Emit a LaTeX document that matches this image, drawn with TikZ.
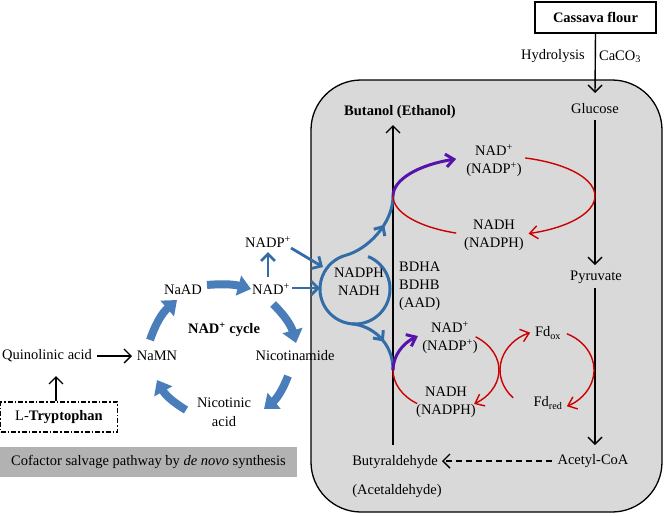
\documentclass[tikz,border=0pt]{standalone}
\usepackage{fontspec}
\setmainfont{Liberation Serif}
\usetikzlibrary{arrows.meta,decorations.markings,calc}
\definecolor{boxgray}{RGB}{217,217,217}
\definecolor{bargray}{RGB}{178,178,178}
\definecolor{fatblue}{RGB}{74,126,187}
\definecolor{thinblue}{RGB}{52,108,168}
\definecolor{myred}{RGB}{204,0,0}
\definecolor{mypurple}{RGB}{88,20,170}
\begin{document}
\begin{tikzpicture}[x=1pt,y=-1pt,
  lbl/.style={inner sep=0pt, align=center},
  blk/.style={line width=1.4pt, -{Straight Barb[length=7pt,width=14pt]}},
  redarr/.style={myred, line width=1.4pt, -{Straight Barb[length=8pt,width=13pt]}},
  redln/.style={myred, line width=1.4pt},
  purarr/.style={mypurple, line width=3pt, -{Straight Barb[length=8pt,width=13pt]}},
  bluearr/.style={thinblue, line width=2.8pt, -{Straight Barb[length=7pt,width=14pt]}},
  bluecirc/.style={thinblue, line width=3pt},
  fat/.style={fatblue, line width=8pt, -{Triangle[length=13pt,width=20pt]}},
  midarrow/.style={postaction={decorate}, decoration={markings, mark=at position #1 with {\arrow{Straight Barb[length=7pt,width=13pt]}}}}]
\fontsize{14.5}{18}\selectfont
\useasboundingbox (0,0) rectangle (664,515);

% cell
\draw[fill=boxgray, line width=1.3pt, rounded corners=50pt] (311,80) rectangle (662,512);

% right side labels
\node[lbl, draw, line width=1.3pt, minimum width=121pt, minimum height=31pt, font=\bfseries] (cas) at (595.5,17.5) {Cassava flour};
\node[lbl] (hyd) at (553,56) {Hydrolysis};
\node[lbl] (caco) at (620,57) {CaCO\textsubscript{3}};
\node[lbl] (glu) at (595,109) {Glucose};
\node[lbl] (pyr) at (596,277) {Pyruvate};
\node[lbl] (aco) at (593,461) {Acetyl-CoA};
\node[lbl] (butyr) at (395,462) {Butyraldehyde};
\node[lbl] (acet) at (397,491) {(Acetaldehyde)};
\node[lbl, font=\bfseries] (buol) at (400,112) {Butanol (Ethanol)};
\node[lbl] (nadA) at (494,161) {NAD\textsuperscript{+}\\(NADP\textsuperscript{+})};
\node[lbl] (nadhA) at (494,235) {NADH\\(NADPH)};
\node[lbl, anchor=west, align=left] (bdh) at (399,286) {BDHA\\BDHB\\(AAD)};
\node[lbl] (nadph) at (359,282) {NADPH\\NADH};
\node[lbl] (nadB) at (450,338) {NAD\textsuperscript{+}\\(NADP\textsuperscript{+})};
\node[lbl] (nadhB) at (446,402) {NADH\\(NADPH)};
\node[lbl] (fdox) at (548,333) {Fd\textsubscript{ox}};
\node[lbl] (fdred) at (548,403) {Fd\textsubscript{red}};

% left side labels
\node[lbl] (nadp) at (268,242) {NADP\textsuperscript{+}};
\node[lbl] (nad) at (271,289) {NAD\textsuperscript{+}};
\node[lbl] (naad) at (183,290) {NaAD};
\node[lbl] (namn) at (157,356) {NaMN};
\node[lbl] (quin) at (47,356) {Quinolinic acid};
\node[lbl, font=\bfseries] (cyc) at (224,330) {NAD\textsuperscript{+} cycle};
\node[lbl] (nicam) at (295,356) {Nicotinamide};
\node[lbl, font=\fontsize{14.5}{19}\selectfont] (nicac) at (224,412) {Nicotinic\\acid};
\node[lbl, draw, line width=1.1pt, dash pattern=on 5pt off 2pt on 1.5pt off 2pt, minimum width=117pt, minimum height=30pt] (trp) at (59,417) {L-\textbf{Tryptophan}};
\node[lbl, fill=bargray, minimum width=297pt, minimum height=30pt] (cof) at (148.5,462) {Cofactor salvage pathway by \textit{de novo} synthesis};

% black connectors
\coordinate (g0) at (595,93);
\coordinate (g1) at (595,120);
\coordinate (p0) at (595,265);
\coordinate (p1) at (595,288);
\coordinate (a0) at (595,445);
\draw[blk] (cas.south) -- (g0);
\draw[blk] (g1) -- (p0);
\draw[blk] (p1) -- (a0);
\coordinate (d0) at (552,461);
\coordinate (d1) at (442,461);
\draw[blk, dash pattern=on 6pt off 4pt] (d0) -- (d1);
\coordinate (vbot) at (393,445);
\coordinate (vtop) at (393,125);
\draw[blk] (vbot) -- (vtop);
\coordinate (q0) at (97,356);
\coordinate (q1) at (132,356);
\draw[blk] (q0) -- (q1);
\coordinate (t1) at (56,376);
\draw[blk] (trp.north -| t1) -- (t1);

% NAD+ cycle fat arrows
\coordinate (f1s) at (150,340); \coordinate (f1e) at (177,300);
\coordinate (f2s) at (207,285); \coordinate (f2e) at (251,289);
\coordinate (f3s) at (273,304); \coordinate (f3e) at (296,343);
\coordinate (f4s) at (288,376); \coordinate (f4e) at (264,409);
\coordinate (f5s) at (186,410); \coordinate (f5e) at (157,380);
\draw[fat] (f1s) to[bend left=15] (f1e);
\draw[fat] (f2s) to[bend left=10] (f2e);
\draw[fat] (f3s) to[bend left=15] (f3e);
\draw[fat] (f4s) to[bend left=15] (f4e);
\draw[fat] (f5s) to[bend left=15] (f5e);

% thin blue arrows
\coordinate (b1s) at (268,277); \coordinate (b1e) at (268,252);
\coordinate (b2s) at (291,248); \coordinate (b2e) at (323,267);
\coordinate (b3s) at (292,288); \coordinate (b3e) at (320,288);
\draw[bluearr] (b1s) -- (b1e);
\draw[bluearr] (b2s) -- (b2e);
\draw[bluearr] (b3s) -- (b3e);

% NADPH/NADH circle and branches
\coordinate (C) at (355,289);
\coordinate (e1left) at (393,196);
\coordinate (e2left) at (393,370);
\draw[bluecirc] ($(C)+(68:35pt)$) arc[start angle=68, end angle=-255, radius=35pt];
\draw[bluecirc, midarrow=0.62] ($(C)+(105:35pt)$) .. controls +(15:22pt) and +(-90:28pt) .. (e1left);
\draw[bluecirc, midarrow=0.55] ($(C)+(-95:35pt)$) .. controls +(-5:20pt) and +(90:28pt) .. (e2left);

% upper redox cycle
\coordinate (E1) at (494,196);
\draw[purarr] (e1left) arc[start angle=180, end angle=112, x radius=101pt, y radius=40pt];
\draw[redarr] ($(E1)+(72:101pt and 40pt)$) arc[start angle=72, end angle=-70, x radius=101pt, y radius=40pt];
\draw[redln] ($(E1)+(-112:101pt and 40pt)$) arc[start angle=-112, end angle=-180, x radius=101pt, y radius=40pt];

% lower redox cycle
\coordinate (E2) at (446,370);
\draw[purarr] (e2left) arc[start angle=180, end angle=122, x radius=53pt, y radius=40pt];
\draw[redarr] ($(E2)+(56:53pt and 40pt)$) arc[start angle=56, end angle=-58, x radius=53pt, y radius=40pt];
\draw[redln] ($(E2)+(-123:53pt and 40pt)$) arc[start angle=-123, end angle=-180, x radius=53pt, y radius=40pt];

% ferredoxin cycle
\coordinate (E3) at (547,370);
\draw[redarr] ($(E3)+(-136:47pt and 40pt)$) arc[start angle=-136, end angle=-249, x radius=47pt, y radius=40pt];
\draw[redarr] ($(E3)+(65:47pt and 40pt)$) arc[start angle=65, end angle=-65, x radius=47pt, y radius=40pt];
\end{tikzpicture}
\end{document}
